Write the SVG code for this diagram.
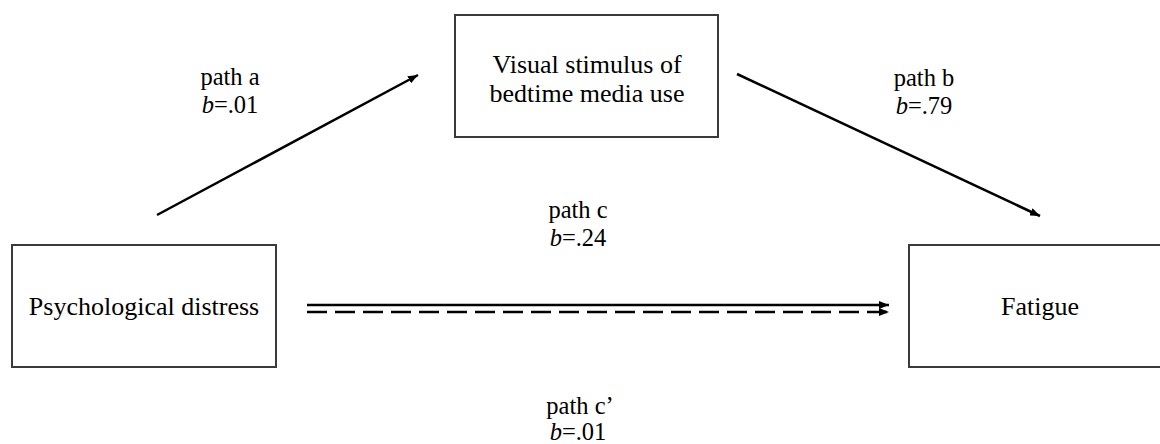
<svg xmlns="http://www.w3.org/2000/svg" width="1160" height="444" viewBox="0 0 1160 444">
  <defs>
    <marker id="head" viewBox="0 0 10 8" refX="10" refY="4" markerWidth="10" markerHeight="8" markerUnits="userSpaceOnUse" orient="auto">
      <path d="M0,0 L10,4 L0,8 Z" fill="#000"/>
    </marker>
    <style>
      .box { fill: #fff; stroke: #3a3a3a; stroke-width: 2; }
      .node-text { font-family: 'Liberation Serif', 'Times New Roman', serif; font-size: 26px; fill: #000; text-anchor: middle; }
      .label { font-family: 'Liberation Serif', 'Times New Roman', serif; font-size: 24.5px; fill: #000; text-anchor: middle; }
      .edge { stroke: #000; stroke-width: 2.5; fill: none; marker-end: url(#head); }
      .dashed { stroke-dasharray: 20 8; }
    </style>
  </defs>
  <rect width="1160" height="444" fill="#fff"/>

  <!-- nodes -->
  <g id="node-mediator">
    <rect class="box" x="455" y="15" width="263" height="122"/>
    <text class="node-text" x="587" y="73">Visual stimulus of</text>
    <text class="node-text" x="587" y="102">bedtime media use</text>
  </g>
  <g id="node-predictor">
    <rect class="box" x="12" y="245" width="264" height="122"/>
    <text class="node-text" x="144" y="315">Psychological distress</text>
  </g>
  <g id="node-outcome">
    <rect class="box" x="909" y="245" width="262" height="122"/>
    <text class="node-text" x="1040" y="315">Fatigue</text>
  </g>

  <!-- connectors -->
  <g id="connectors">
    <line class="edge" x1="157" y1="215" x2="418" y2="75"/>
    <line class="edge" x1="737" y1="74" x2="1040" y2="216"/>
    <line class="edge" x1="307" y1="305" x2="889" y2="305"/>
    <line class="edge dashed" x1="307" y1="312" x2="889" y2="312"/>
  </g>

  <!-- path labels -->
  <g id="labels">
    <text class="label" x="230" y="85">path a</text>
    <text class="label" x="230" y="113"><tspan font-style="italic">b</tspan>=.01</text>
    <text class="label" x="924" y="86">path b</text>
    <text class="label" x="924" y="114"><tspan font-style="italic">b</tspan>=.79</text>
    <text class="label" x="578" y="218">path c</text>
    <text class="label" x="578" y="246"><tspan font-style="italic">b</tspan>=.24</text>
    <text class="label" x="580" y="414">path c’</text>
    <text class="label" x="578" y="440"><tspan font-style="italic">b</tspan>=.01</text>
  </g>
</svg>
